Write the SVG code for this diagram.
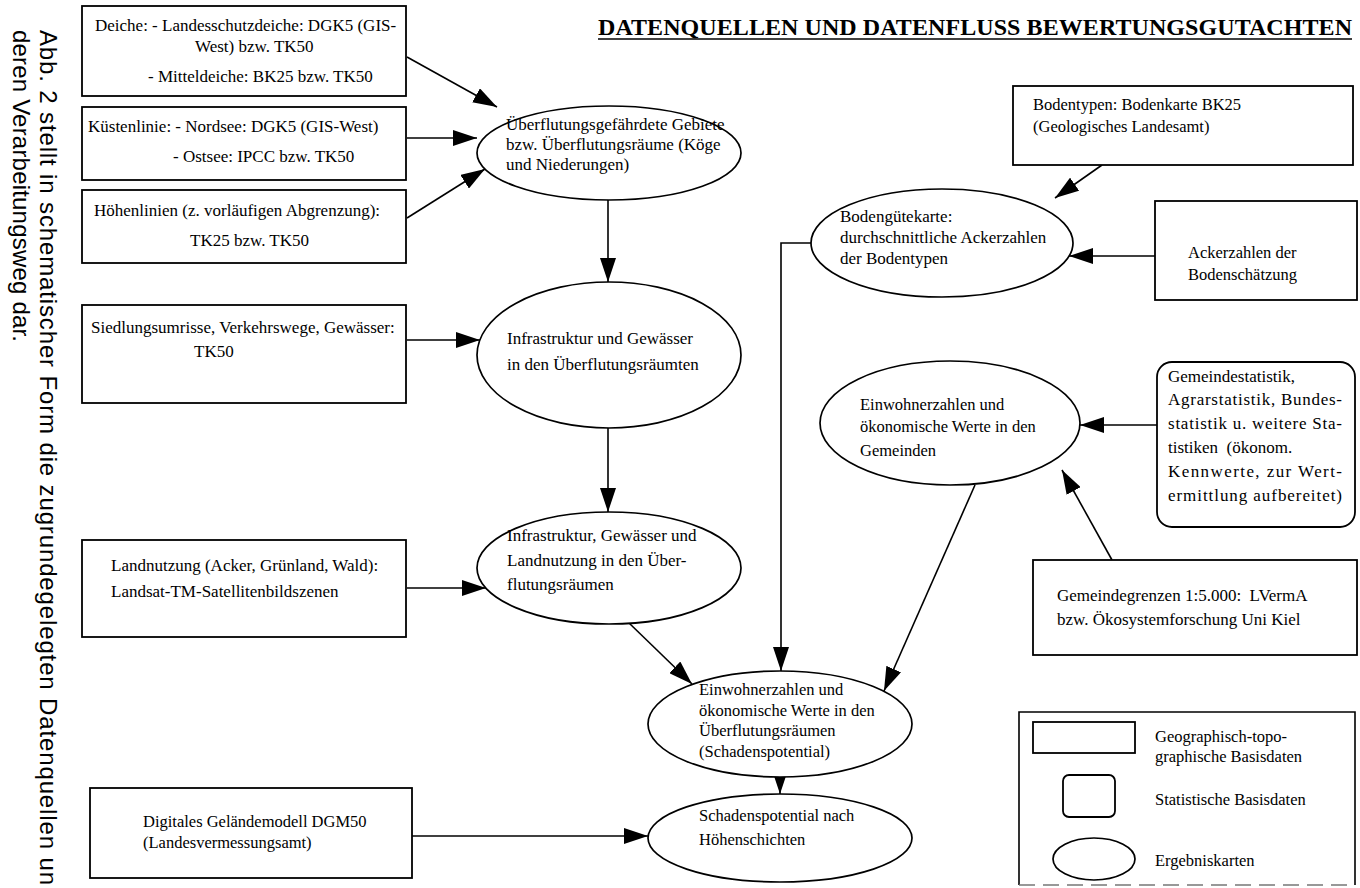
<svg xmlns="http://www.w3.org/2000/svg" width="1360" height="888" viewBox="0 0 1360 888">
<defs>
<style>
.t{font-family:"Liberation Serif","Times New Roman",serif;font-size:17px;fill:#000;}
.tm{font-family:"Liberation Serif","Times New Roman",serif;font-size:16.5px;fill:#000;}
.side{font-family:"Liberation Sans",Arial,sans-serif;font-size:24px;fill:#000;}
.title{font-family:"Liberation Serif","Times New Roman",serif;font-size:24px;font-weight:bold;fill:#000;}
.box{fill:#fff;stroke:#000;stroke-width:1.8;}
.ell{fill:#fff;stroke:#000;stroke-width:1.7;}
.con{fill:none;stroke:#000;stroke-width:1.6;}
</style>
<marker id="ah" viewBox="0 0 24 16" refX="24" refY="8" markerWidth="24" markerHeight="16" markerUnits="userSpaceOnUse" orient="auto">
<path d="M0,0 L24,8 L0,16 z" fill="#000"/>
</marker>
</defs>
<rect width="1360" height="888" fill="#fff"/>

<g id="sidetext">
<text class="side" transform="translate(40,30) rotate(90)" textLength="855" lengthAdjust="spacing">Abb. 2 stellt in schematischer Form die zugrundegelegten Datenquellen un</text>
<text class="side" transform="translate(13,30) rotate(90)" textLength="312" lengthAdjust="spacing">deren Verarbeitungsweg dar.</text>
</g>

<g id="title">
<text class="title" x="598" y="35" textLength="754" lengthAdjust="spacing">DATENQUELLEN UND DATENFLUSS BEWERTUNGSGUTACHTEN</text>
<line x1="598" y1="39" x2="1352" y2="39" stroke="#000" stroke-width="1.6"/>
</g>

<g id="connectors">
<line class="con" x1="407" y1="57" x2="497" y2="107" marker-end="url(#ah)"/>
<line class="con" x1="407" y1="138" x2="477" y2="138" marker-end="url(#ah)"/>
<line class="con" x1="407" y1="218" x2="485" y2="169" marker-end="url(#ah)"/>
<line class="con" x1="608" y1="200" x2="608" y2="282" marker-end="url(#ah)"/>
<line class="con" x1="407" y1="340" x2="480" y2="340" marker-end="url(#ah)"/>
<line class="con" x1="608" y1="428" x2="608" y2="512" marker-end="url(#ah)"/>
<line class="con" x1="407" y1="588" x2="486" y2="588" marker-end="url(#ah)"/>
<line class="con" x1="628" y1="622" x2="692" y2="684" marker-end="url(#ah)"/>
<polyline class="con" points="811,243 781,243 781,671" marker-end="url(#ah)"/>
<line class="con" x1="975" y1="485" x2="884" y2="691" marker-end="url(#ah)"/>
<line class="con" x1="780" y1="777" x2="780" y2="794" marker-end="url(#ah)"/>
<line class="con" x1="412" y1="836" x2="648" y2="836" marker-end="url(#ah)"/>
<line class="con" x1="1102" y1="165" x2="1055" y2="198" marker-end="url(#ah)"/>
<line class="con" x1="1155" y1="256" x2="1069" y2="256" marker-end="url(#ah)"/>
<line class="con" x1="1157" y1="425" x2="1080" y2="425" marker-end="url(#ah)"/>
<line class="con" x1="1112" y1="560" x2="1062" y2="470" marker-end="url(#ah)"/>
</g>

<g id="n-deiche">
<rect class="box" x="82" y="6" width="324" height="90"/>
<text class="t" x="95" y="31">Deiche: - Landesschutzdeiche: DGK5 (GIS-</text>
<text class="t" x="195" y="52">West) bzw. TK50</text>
<text class="t" x="148" y="82">- Mitteldeiche: BK25 bzw. TK50</text>
</g>
<g id="n-kueste">
<rect class="box" x="82" y="107" width="324" height="73"/>
<text class="t" x="88" y="132">Küstenlinie: - Nordsee: DGK5 (GIS-West)</text>
<text class="t" x="173" y="162">- Ostsee: IPCC bzw. TK50</text>
</g>
<g id="n-hoehen">
<rect class="box" x="82" y="190" width="324" height="73"/>
<text class="t" x="94" y="216">Höhenlinien (z. vorläufigen Abgrenzung):</text>
<text class="t" x="190" y="246">TK25 bzw. TK50</text>
</g>
<g id="n-siedlung">
<rect class="box" x="82" y="305" width="324" height="98"/>
<text class="t" x="91" y="333">Siedlungsumrisse, Verkehrswege, Gewässer:</text>
<text class="t" x="194" y="357">TK50</text>
</g>
<g id="n-landnutzung">
<rect class="box" x="82" y="540" width="324" height="97"/>
<text class="t" x="111" y="571">Landnutzung (Acker, Grünland, Wald):</text>
<text class="t" x="111" y="597">Landsat-TM-Satellitenbildszenen</text>
</g>
<g id="n-dgm">
<rect class="box" x="90" y="788" width="322" height="90"/>
<text class="tm" x="143" y="827">Digitales Geländemodell DGM50</text>
<text class="tm" x="143" y="848">(Landesvermessungsamt)</text>
</g>

<g id="e-ueberflutung">
<ellipse class="ell" cx="609" cy="153" rx="132" ry="47"/>
<text class="t" x="506" y="130">Überflutungsgefährdete Gebiete</text>
<text class="t" x="506" y="150">bzw. Überflutungsräume (Köge</text>
<text class="t" x="506" y="170">und Niederungen)</text>
</g>
<g id="e-infra">
<ellipse class="ell" cx="609" cy="355" rx="132" ry="73"/>
<text class="t" x="507" y="344">Infrastruktur und Gewässer</text>
<text class="t" x="507" y="370">in den Überflutungsräumten</text>
</g>
<g id="e-infraland">
<ellipse class="ell" cx="609" cy="568" rx="132" ry="56"/>
<text class="t" x="507" y="541">Infrastruktur, Gewässer und</text>
<text class="t" x="507" y="566">Landnutzung in den Über-</text>
<text class="t" x="507" y="590">flutungsräumen</text>
</g>
<g id="e-schadenspot">
<ellipse class="ell" cx="780" cy="724" rx="132" ry="53"/>
<text class="tm" x="699" y="695">Einwohnerzahlen und</text>
<text class="tm" x="699" y="716">ökonomische Werte in den</text>
<text class="tm" x="699" y="736">Überflutungsräumen</text>
<text class="tm" x="699" y="757">(Schadenspotential)</text>
</g>
<g id="e-hoehenschichten">
<ellipse class="ell" cx="780" cy="838" rx="132" ry="44"/>
<text class="tm" x="699" y="821">Schadenspotential nach</text>
<text class="tm" x="699" y="845">Höhenschichten</text>
</g>

<g id="n-bodentypen">
<rect class="box" x="1013" y="86" width="340" height="79"/>
<text class="tm" x="1033" y="110">Bodentypen: Bodenkarte BK25</text>
<text class="tm" x="1033" y="132">(Geologisches Landesamt)</text>
</g>
<g id="e-bodenguete">
<ellipse class="ell" cx="942" cy="243" rx="131" ry="54"/>
<text class="t" x="840" y="222">Bodengütekarte:</text>
<text class="t" x="840" y="243">durchschnittliche Ackerzahlen</text>
<text class="t" x="840" y="264">der Bodentypen</text>
</g>
<g id="n-ackerzahlen">
<rect class="box" x="1155" y="201" width="202" height="99"/>
<text class="tm" x="1188" y="258">Ackerzahlen der</text>
<text class="tm" x="1188" y="280">Bodenschätzung</text>
</g>
<g id="e-gemeinden">
<ellipse class="ell" cx="950" cy="423" rx="130" ry="62"/>
<text class="tm" x="860" y="410">Einwohnerzahlen und</text>
<text class="tm" x="860" y="432">ökonomische Werte in den</text>
<text class="tm" x="860" y="456">Gemeinden</text>
</g>
<g id="n-statistik">
<rect class="box" x="1157" y="362" width="198" height="165" rx="15" ry="15"/>
<text class="t" x="1168" y="382">Gemeindestatistik,</text>
<text class="t" x="1168" y="405" textLength="174" lengthAdjust="spacing">Agrarstatistik, Bundes-</text>
<text class="t" x="1168" y="429" textLength="174" lengthAdjust="spacing">statistik u. weitere Sta-</text>
<text class="t" x="1168" y="453">tistiken&#160; (ökonom.</text>
<text class="t" x="1168" y="477" textLength="174" lengthAdjust="spacing">Kennwerte, zur Wert-</text>
<text class="t" x="1168" y="501" textLength="174" lengthAdjust="spacing">ermittlung aufbereitet)</text>
</g>
<g id="n-gemeindegrenzen">
<rect class="box" x="1033" y="560" width="324" height="95"/>
<text class="t" x="1057" y="601">Gemeindegrenzen 1:5.000:&#160; LVermA</text>
<text class="t" x="1057" y="625">bzw. Ökosystemforschung Uni Kiel</text>
</g>

<g id="legend">
<path d="M1019,885 L1019,712 L1355,712 L1355,885" fill="none" stroke="#000" stroke-width="1.6"/>
<line x1="1019" y1="885" x2="1355" y2="885" stroke="#777" stroke-width="1.4" stroke-dasharray="16,8"/>
<rect class="box" x="1033" y="722" width="102" height="31"/>
<text class="tm" x="1155" y="742">Geographisch-topo-</text>
<text class="tm" x="1155" y="762">graphische Basisdaten</text>
<rect class="box" x="1063" y="775" width="52" height="42" rx="6" ry="6"/>
<text class="tm" x="1155" y="805">Statistische Basisdaten</text>
<ellipse class="ell" cx="1094" cy="859" rx="41" ry="21"/>
<text class="tm" x="1155" y="866">Ergebniskarten</text>
</g>
</svg>
